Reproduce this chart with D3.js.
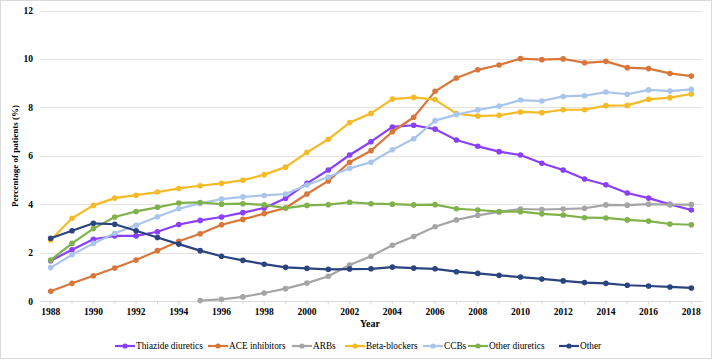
<!DOCTYPE html>
<html>
<head>
<meta charset="utf-8">
<script src="https://cdn.jsdelivr.net/npm/d3@7"></script>
<style>
body{margin:0;background:#fff;}
svg{display:block;}
svg text{font-family:"Liberation Serif","Times New Roman",Times,"DejaVu Serif",serif;}
</style>
</head>
<body>
<svg id="c" width="712" height="360"></svg>
<script>
const years = d3.range(1988, 2019);
const yTicks = [0, 2, 4, 6, 8, 10, 12];
const seriesNames = ["Thiazide diuretics", "ACE inhibitors", "ARBs", "Beta-blockers", "CCBs", "Other diuretics", "Other"];
const seriesColors = ["#8a3ffc", "#d9773a", "#a5a5a5", "#f5bb27", "#a9c5ec", "#7fb24a", "#2a4480"];

const thiazide = [1.66,2.12,2.55,2.69,2.69,2.86,3.16,3.33,3.47,3.65,3.84,4.24,4.86,5.41,6.03,6.58,7.19,7.26,7.10,6.65,6.39,6.17,6.03,5.69,5.41,5.04,4.80,4.46,4.25,3.99,3.76];
const ace = [0.40,0.73,1.04,1.36,1.69,2.08,2.47,2.78,3.15,3.37,3.61,3.84,4.42,4.96,5.73,6.21,6.99,7.59,8.66,9.21,9.55,9.75,10.01,9.97,10.00,9.84,9.90,9.64,9.60,9.40,9.29];
const arbs = [null,null,null,null,null,null,null,0.02,0.07,0.17,0.33,0.51,0.74,1.02,1.49,1.85,2.30,2.66,3.07,3.35,3.54,3.68,3.80,3.78,3.80,3.83,3.97,3.96,4.00,3.98,3.98];
const beta = [2.52,3.42,3.95,4.25,4.37,4.50,4.65,4.76,4.86,4.99,5.22,5.53,6.14,6.68,7.37,7.75,8.34,8.41,8.32,7.74,7.64,7.67,7.81,7.78,7.90,7.90,8.07,8.08,8.33,8.40,8.55];
const ccbs = [1.38,1.91,2.38,2.80,3.13,3.48,3.81,4.03,4.21,4.30,4.36,4.42,4.79,5.12,5.48,5.73,6.25,6.70,7.45,7.70,7.89,8.05,8.30,8.26,8.45,8.48,8.63,8.54,8.72,8.67,8.74];
const otherDiuretics = [1.69,2.38,2.99,3.47,3.70,3.87,4.05,4.07,4.00,4.02,3.97,3.84,3.95,3.98,4.08,4.02,4.00,3.97,3.98,3.81,3.76,3.69,3.69,3.60,3.55,3.44,3.43,3.35,3.30,3.18,3.15];
const other = [2.59,2.90,3.21,3.17,2.90,2.62,2.35,2.08,1.85,1.68,1.52,1.39,1.35,1.31,1.32,1.33,1.40,1.36,1.33,1.21,1.14,1.06,0.99,0.91,0.83,0.76,0.73,0.65,0.62,0.58,0.54];

const seriesValues = [thiazide, ace, arbs, beta, ccbs, otherDiuretics, other];

const svg = d3.select("#c");
const W = 712, H = 360;
const FONT = '"Liberation Serif","Times New Roman",Times,"DejaVu Serif",serif';

svg.append("rect").attr("x", 0.5).attr("y", 0.5).attr("width", W - 1).attr("height", H - 2)
  .attr("fill", "#fff").attr("stroke", "#d9d9d9");

const x = d3.scaleBand().domain(years).range([40, 702]).paddingInner(0).paddingOuter(0);
const xc = d => x(d) + x.bandwidth() / 2;
const y = d3.scaleLinear().domain([0, 12]).range([301, 10.5]);

// gridlines
svg.append("g").selectAll("line").data(yTicks.filter(t => t > 0)).join("line")
  .attr("x1", 40).attr("x2", 702)
  .attr("y1", d => Math.round(y(d)) + 0.5).attr("y2", d => Math.round(y(d)) + 0.5)
  .attr("stroke", "#e3e3e3").attr("stroke-width", 1);

// y axis labels
const yAxis = d3.axisLeft(y).tickValues(yTicks).tickSize(0).tickPadding(7).tickFormat(d3.format("d"));
const gy = svg.append("g").attr("transform", "translate(40,0)").call(yAxis);
gy.attr("font-family", FONT);
gy.select(".domain").remove();
gy.selectAll("text").style("font-family", FONT)
  .attr("font-size", 9.5).attr("font-weight", "bold").attr("fill", "#000");

// x axis
const xAxis = d3.axisBottom(x).tickValues(years).tickSize(3).tickPadding(4)
  .tickFormat(d => (d % 2 === 0 ? d : ""));
const gx = svg.append("g").attr("transform", "translate(0,301.5)").call(xAxis);
gx.attr("font-family", FONT);
gx.select(".domain").attr("stroke", "#d9d9d9").attr("d", "M40,0H702");
gx.selectAll(".tick line").attr("stroke", "#d9d9d9");
gx.selectAll("text").style("font-family", FONT)
  .attr("font-size", 9.5).attr("font-weight", "bold").attr("fill", "#000");

// axis titles
svg.append("text").attr("x", 370).attr("y", 327).attr("text-anchor", "middle")
  .style("font-family", FONT).attr("font-size", 10)
  .attr("font-weight", "bold").text("Year");
svg.append("text").attr("transform", "translate(18,156) rotate(-90)").attr("text-anchor", "middle")
  .style("font-family", FONT).attr("font-size", 9)
  .attr("font-weight", "bold").text("Percentage of patients (%)");

// lines
const line = d3.line().defined(d => d.v != null).x(d => xc(d.year)).y(d => y(d.v));
seriesValues.forEach((vals, i) => {
  const pts = years.map((yr, j) => ({year: yr, v: vals[j]}));
  const g = svg.append("g");
  g.append("path").datum(pts).attr("d", line).attr("fill", "none")
    .attr("stroke", seriesColors[i]).attr("stroke-width", 2.2).attr("stroke-linejoin", "round");
  g.selectAll("circle").data(pts.filter(d => d.v != null)).join("circle")
    .attr("cx", d => xc(d.year)).attr("cy", d => y(d.v)).attr("r", 2.8)
    .attr("fill", seriesColors[i]);
});

// legend
const legendX = [115, 208, 292, 345, 423, 468, 559];
const lg = svg.append("g");
seriesNames.forEach((name, i) => {
  const lx = legendX[i];
  lg.append("line").attr("x1", lx).attr("x2", lx + 20).attr("y1", 346).attr("y2", 346)
    .attr("stroke", seriesColors[i]).attr("stroke-width", 2.2);
  lg.append("circle").attr("cx", lx + 10).attr("cy", 346).attr("r", 2.6).attr("fill", seriesColors[i]);
  lg.append("text").attr("x", lx + 21).attr("y", 349.3)
    .style("font-family", FONT).attr("font-size", 9.3)
    .attr("fill", "#000").text(name);
});
</script>
</body>
</html>
